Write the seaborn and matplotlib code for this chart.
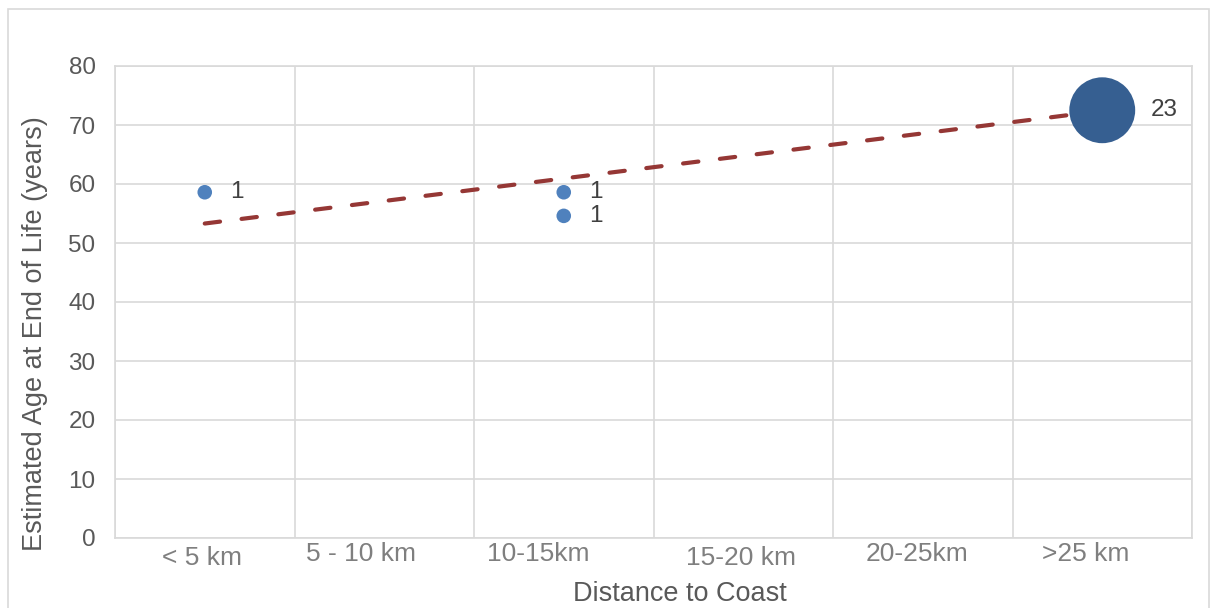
import matplotlib
matplotlib.use("Agg")
import matplotlib.pyplot as plt
import seaborn as sns
import pandas as pd
from matplotlib.patches import Rectangle

# ---- data ----
categories = ["< 5 km", "5 - 10 km", "10-15km", "15-20 km", "20-25km", ">25 km"]
point_category = ["< 5 km", "10-15km", "10-15km", ">25 km"]
point_age = [58.6, 58.6, 54.6, 72.5]
point_count = [1, 1, 1, 23]
trend_category = ["< 5 km", ">25 km"]
trend_age = [53.3, 72.4]
y_ticks = [0, 10, 20, 30, 40, 50, 60, 70, 80]

sns.set_theme(style="white")
plt.rcParams["font.family"] = ["Liberation Sans", "DejaVu Sans"]

cat_pos = {c: i + 0.5 for i, c in enumerate(categories)}
df = pd.DataFrame({
    "x": [cat_pos[c] for c in point_category],
    "age": point_age,
    "count": point_count,
})

fig = plt.figure(figsize=(12.12, 6.08), dpi=100)
ax = fig.add_axes([115 / 1212, 70 / 608, (1192 - 115) / 1212, (538 - 66) / 608])

# figure frame
fig.patches.append(Rectangle((8 / 1212, -0.1), (1209 - 8) / 1212, (599 / 608) + 0.1,
                             transform=fig.transFigure, fill=False,
                             edgecolor="#d9d9d9", linewidth=1.2, zorder=0))

palette = {1: "#4f81bd", 23: "#365f91"}
sns.scatterplot(data=df, x="x", y="age", size="count", sizes=(110, 2250),
                hue="count", palette=palette, linewidth=0, legend=False,
                ax=ax, zorder=3)

sns.lineplot(x=[cat_pos[c] for c in trend_category], y=trend_age, ax=ax,
             color="#953735", linewidth=3, linestyle=(0, (3.7, 5.2)),
             dash_capstyle="round", zorder=2)

# data labels
for xv, yv, n in zip(df["x"], df["age"], df["count"]):
    off = 0.14 if n < 5 else 0.27
    ax.text(xv + off, yv, str(n), ha="left", va="center", fontsize=17.5,
            color="#404040", zorder=5)

ax.set_xlim(0, len(categories))
ax.set_ylim(0, 80)
ax.set_yticks(y_ticks)
ax.set_yticklabels([str(v) for v in y_ticks])

# grid at category boundaries
ax.set_xticks(range(len(categories) + 1))
ax.set_xticklabels([])
label_pos = [0.485, 1.37, 2.36, 3.49, 4.47, 5.41]
ax.set_xticks(label_pos, minor=True)
ax.set_xticklabels(categories, minor=True)
ax.tick_params(axis="x", which="both", length=0)
ax.tick_params(axis="x", which="minor", labelsize=19, labelcolor="#7f7f7f", pad=6)
for i, t in enumerate(ax.get_xticklabels(minor=True)):
    if i in (1, 2, 4, 5):
        t.set_y(t.get_position()[1] + 0.009)
ax.tick_params(axis="y", length=0, labelsize=17.5, labelcolor="#595959", pad=14)

ax.grid(True, which="major", color="#d9d9d9", linewidth=1.2)
ax.set_axisbelow(True)
for s in ax.spines.values():
    s.set_color("#d9d9d9")
    s.set_linewidth(1.2)

ax.set_xlabel("Distance to Coast", fontsize=19.5, color="#595959")
ax.set_ylabel("Estimated Age at End of Life (years)", fontsize=19.5, color="#595959")
ax.xaxis.set_label_coords((680 - 115) / (1192 - 115), -(594 - 538) / (538 - 66))
ax.yaxis.set_label_coords(-(115 - 35) / (1192 - 115), (538 - 334) / (538 - 66))
ax.xaxis.label.set_va("center")
ax.yaxis.label.set_va("center")

fig.savefig("out.png", dpi=100)
